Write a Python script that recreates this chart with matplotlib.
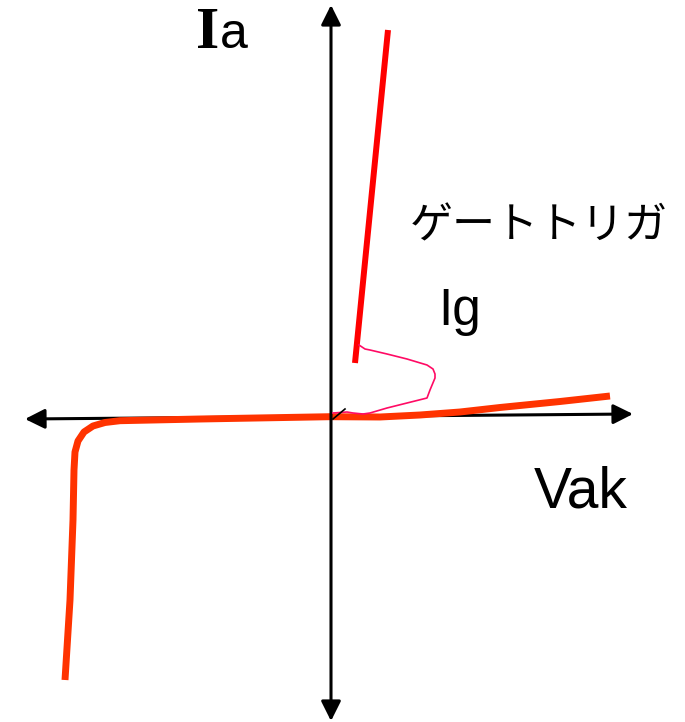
import numpy as np
import matplotlib.pyplot as plt
from matplotlib.patches import FancyArrowPatch

# characteristic curve, origin at the axis crossing
curve_x = [-265, -260, -257, -256, -255, -252, -246, -237, -225, -210, -130, 0, 50, 90, 130, 170, 230, 280]
curve_y = [-264, -184, -104, -54, -36, -25, -16, -10, -6.5, -4.7, -3, -0.7, -1, 1, 4, 8.5, 14.5, 20]

# turned-on branch
on_x = [25, 58]
on_y = [53, 386]

# gate trigger loop
gate_x = [29, 35, 40, 57, 77, 97, 103, 105, 105, 100, 97, 77, 57, 40, 33, 23, 17, 3]
gate_y = [71, 67, 66, 62, 57, 51, 47, 42, 38, 26, 18, 13, 8, 3, 2, 3, 4, 3]

tick_x = [3, 15]
tick_y = [-3, 7]

label_ia = 'Ia'
label_trigger = 'ゲートトリガ'
label_ig = 'Ig'
label_vak = 'Vak'

fig = plt.figure(figsize=(6.85, 7.22), dpi=100)
ax = fig.add_axes([0, 0, 1, 1])
ax.set_xlim(-330, 355)
ax.set_ylim(-306, 416)
ax.axis('off')

# axes with arrows on both ends
h_axis = FancyArrowPatch((-305, -3), (303, 2), arrowstyle='<|-|>,head_length=0.6,head_width=0.3',
                         mutation_scale=20, lw=2.2, color='black', shrinkA=0, shrinkB=0, zorder=1)
ax.add_patch(h_axis)
ax.plot(curve_x, curve_y, color='#ff3300', lw=5, solid_capstyle='butt', solid_joinstyle='round', zorder=2)
v_axis = FancyArrowPatch((1, -305), (1, 411), arrowstyle='<|-|>,head_length=0.6,head_width=0.3',
                         mutation_scale=20, lw=2.2, color='black', shrinkA=0, shrinkB=0, zorder=3)
ax.add_patch(v_axis)

ax.plot(on_x, on_y, color='#ff0000', lw=4.3, solid_capstyle='butt', zorder=4)
ax.plot(gate_x, gate_y, color='#ff0a64', lw=1.2, zorder=5)
ax.plot(tick_x, tick_y, color='black', lw=1.2, zorder=5)

# labels
ax.text(-134, 368, label_ia[0], family='Liberation Serif', fontweight='bold', fontsize=43, ha='left', va='baseline')
ax.text(-110, 368, label_ia[1], family='Liberation Sans', fontsize=36, ha='left', va='baseline')
ax.text(80, 190, label_trigger, family='Noto Sans CJK JP', fontsize=31, ha='left', va='center')
ax.text(108, 91, label_ig, family='Liberation Sans', fontsize=37, ha='left', va='baseline')
ax.text(204, -91, label_vak, family='Liberation Sans', fontsize=41, ha='left', va='baseline')

fig.savefig('out.png', dpi=100)
